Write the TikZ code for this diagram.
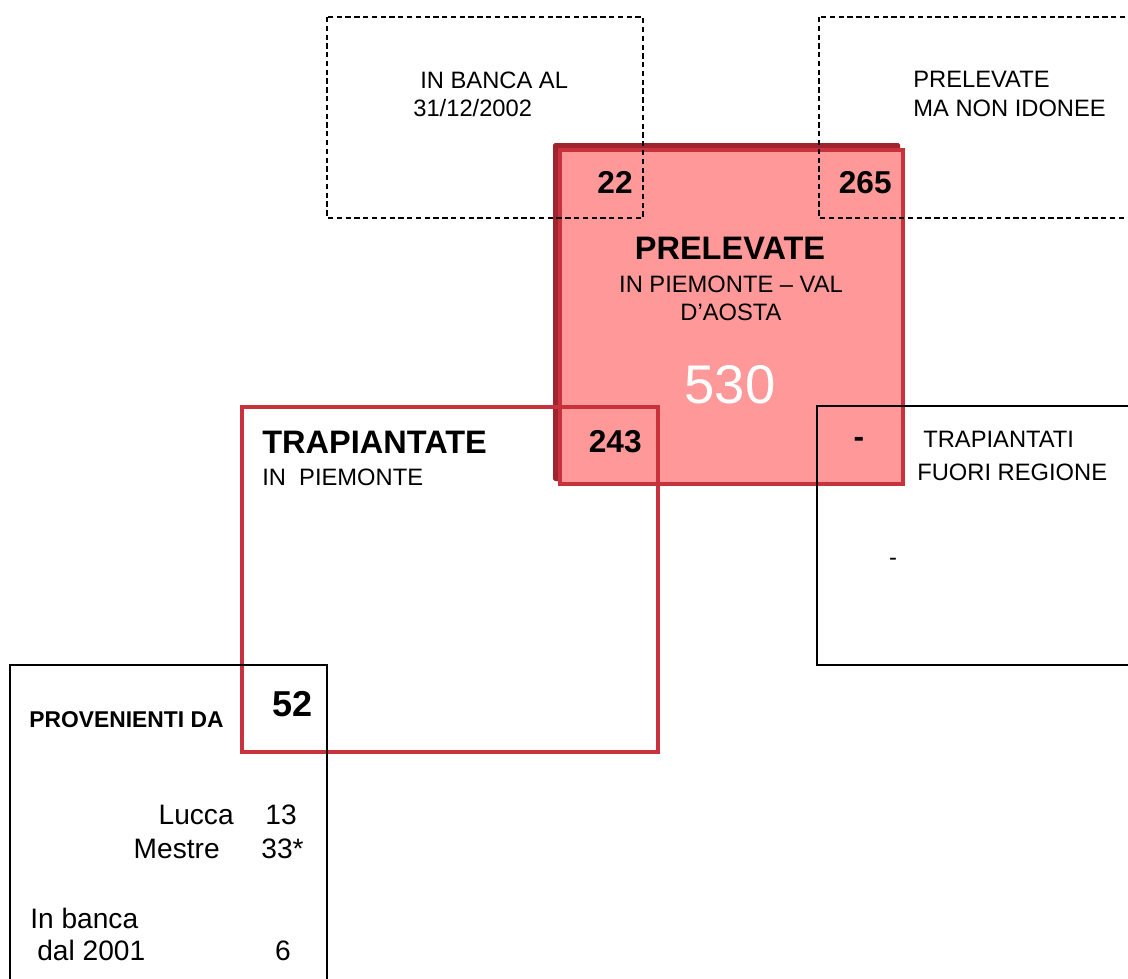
\documentclass[tikz,border=0pt]{standalone}
\usepackage{fontspec}
\setmainfont{Liberation Sans}
\definecolor{pinkfill}{RGB}{255,153,153}
\definecolor{redline}{RGB}{200,50,60}
\definecolor{redshadow}{RGB}{160,35,45}
\begin{document}
\begin{tikzpicture}[x=0.02cm,y=-0.02cm,
  txt/.style={inner sep=0pt, font=\fontsize{13.5}{16}\selectfont},
  ttl/.style={inner sep=0pt, font=\fontsize{18.5}{22}\selectfont\bfseries},
  num/.style={inner sep=0pt, font=\fontsize{18}{22}\selectfont\bfseries},
  bignum/.style={inner sep=0pt, font=\fontsize{31}{36}\selectfont, text=white},
  low/.style={inner sep=0pt, font=\fontsize{16}{19}\selectfont},
  provtxt/.style={inner sep=0pt, font=\fontsize{13}{16}\selectfont\bfseries},
  dashbox/.style={draw=black, line width=0.9pt, dash pattern=on 3pt off 2pt},
  redbox/.style={draw=redline, line width=2.3pt},
  blackbox/.style={draw=black, line width=0.8pt}]
\useasboundingbox (0,0) rectangle (1128,978);
\begin{scope}
\clip (0,0) rectangle (1128,978);
% PRELEVATE box with shadow
\fill[redshadow, rounded corners=1pt] (553,143) rectangle (900,481);
\filldraw[redbox, fill=pinkfill] (560,150) rectangle (903,484);
% dashed boxes
\draw[dashbox] (327,17) rectangle (643,218);
\draw[dashbox] (819,17) rectangle (1140,218);
% trapiantate outline
\draw[redbox] (242,407) rectangle (658,752);
% black boxes
\draw[blackbox] (817,406) rectangle (1140,665);
\draw[blackbox] (10,665) rectangle (327,990);
\end{scope}
% texts
\node[txt, anchor=base west] (banca1) at (420,88) {IN BANCA AL};
\node[txt, anchor=base west] (banca2) at (413,116) {31/12/2002};
\node[txt, anchor=base west] (nonid1) at (913,87) {PRELEVATE};
\node[txt, anchor=base west] (nonid2) at (913,116) {MA NON IDONEE};
\node[num, anchor=base east] (n22) at (633,193) {22};
\node[num, anchor=base east] (n265) at (892,193) {265};
\node[ttl, anchor=base] (prel) at (730,259) {PRELEVATE};
\node[txt, anchor=base] (prel2) at (731,292) {IN PIEMONTE – VAL};
\node[txt, anchor=base] (prel3) at (731,320) {D’AOSTA};
\node[bignum, anchor=base] (n530) at (730,403) {530};
\node[num, anchor=base east] (n243) at (642,452) {243};
\node[num, anchor=base] (dash1) at (859,447) {-};
\node[ttl, anchor=base west] (trap) at (262,453) {TRAPIANTATE};
\node[txt, anchor=base west] (trap2) at (262,485) {IN\ \ PIEMONTE};
\node[txt, anchor=base west] (fuori1) at (923,447) {TRAPIANTATI};
\node[txt, anchor=base west] (fuori2) at (917,480) {FUORI REGIONE};
\node[txt, anchor=base] (dash2) at (893,565) {-};
\node[provtxt, anchor=base west] (prov) at (29,727) {PROVENIENTI DA};
\node[inner sep=0pt, font=\fontsize{20.5}{24}\selectfont\bfseries, anchor=base east] (n52) at (313,716) {52};
\node[low, anchor=base east] (lucca) at (234,824) {Lucca};
\node[low, anchor=base east] (n13) at (297,824) {13};
\node[low, anchor=base east] (mestre) at (220,858) {Mestre};
\node[low, anchor=base east] (n33) at (304,858) {33*};
\node[low, anchor=base west] (inb1) at (30,928) {In banca};
\node[low, anchor=base west] (inb2) at (37,960) {dal 2001};
\node[low, anchor=base east] (n6) at (291,960) {6};
\end{tikzpicture}
\end{document}
